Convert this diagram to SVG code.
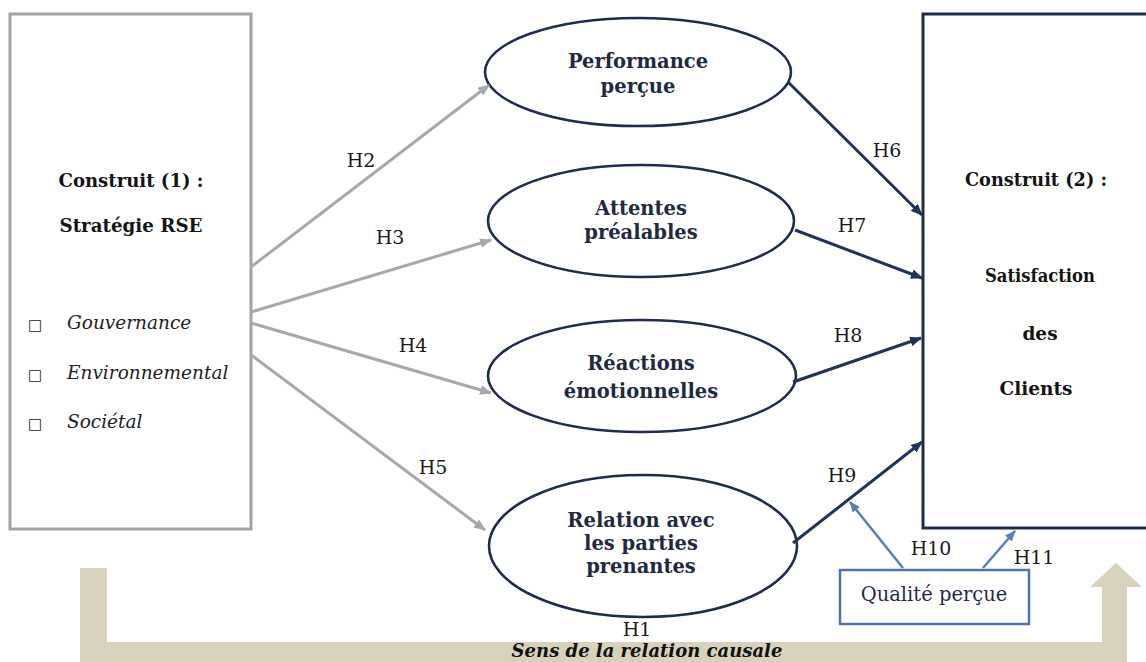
<svg xmlns="http://www.w3.org/2000/svg" width="1146" height="662" viewBox="0 0 1146 662">
<style>
.bg{fill:#ffffff}
.box1{fill:#ffffff;stroke:#a3a3a3;stroke-width:3}
.box2{fill:#ffffff;stroke:#1f2d4a;stroke-width:3}
.ell{fill:#ffffff;stroke:#1f2d4a;stroke-width:2.6}
.qbox{fill:#ffffff;stroke:#5274ab;stroke-width:2.5}
.grey{stroke:#a8a8a8;stroke-width:3;fill:none;marker-end:url(#ag)}
.dark{stroke:#1f3458;stroke-width:3;fill:none;marker-end:url(#ad)}
.blue{stroke:#5b7db5;stroke-width:2.5;fill:none;marker-end:url(#ab)}
.band{fill:#d8d2bd}
.tb{font-family:"DejaVu Serif",serif;font-weight:bold;font-size:18.5px;fill:#141414;text-anchor:middle}
.te{font-family:"DejaVu Serif",serif;font-weight:bold;font-size:19.5px;fill:#1f2a40;text-anchor:middle}
.ti{font-family:"DejaVu Serif",serif;font-style:italic;font-size:18.5px;fill:#1e1e1e}
.bul{font-family:"DejaVu Sans",sans-serif;font-size:15px;fill:#222222}
.th{font-family:"DejaVu Serif",serif;font-size:19px;fill:#1a1a1a;text-anchor:middle}
.tq{font-family:"DejaVu Serif",serif;font-size:19.5px;fill:#1f2d4a;text-anchor:middle}
.ts{font-family:"DejaVu Serif",serif;font-style:italic;font-weight:bold;font-size:18px;fill:#111111;text-anchor:middle}
</style>
<defs>
<marker id="ag" viewBox="0 0 12 10" refX="11" refY="5" markerWidth="4" markerHeight="3.3" orient="auto"><path d="M0,0 L12,5 L0,10 z" fill="#a8a8a8"/></marker>
<marker id="ad" viewBox="0 0 12 10" refX="11" refY="5" markerWidth="4" markerHeight="3.3" orient="auto"><path d="M0,0 L12,5 L0,10 z" fill="#1f3458"/></marker>
<marker id="ab" viewBox="0 0 12 10" refX="11" refY="5" markerWidth="4.5" markerHeight="3.6" orient="auto"><path d="M0,0 L12,5 L0,10 z" fill="#5b7db5"/></marker>
</defs>
<rect class="bg" x="0" y="0" width="1146" height="662"/>

<g id="causal-band">
<polygon class="band" points="80,568 107,568 107,642 1102,642 1102,587 1090,587 1116,563 1142,587 1127,587 1127,662 80,662"/>
</g>

<g id="construit1">
<rect class="box1" x="10" y="14" width="241" height="515"/>
<text class="tb" x="131" y="187" textLength="145" lengthAdjust="spacingAndGlyphs">Construit (1) :</text>
<text class="tb" x="131" y="232" textLength="143" lengthAdjust="spacingAndGlyphs">Stratégie RSE</text>
<text class="bul" x="28" y="330">□</text>
<text class="ti" x="67" y="329">Gouvernance</text>
<text class="bul" x="28" y="380">□</text>
<text class="ti" x="67" y="379">Environnemental</text>
<text class="bul" x="28" y="429">□</text>
<text class="ti" x="67" y="428">Sociétal</text>
</g>

<g id="construit2">
<rect class="box2" x="923" y="14" width="240" height="514"/>
<text class="tb" x="1036" y="186" textLength="142" lengthAdjust="spacingAndGlyphs">Construit (2) :</text>
<text class="tb" x="1040" y="282" textLength="110" lengthAdjust="spacingAndGlyphs">Satisfaction</text>
<text class="tb" x="1040" y="340">des</text>
<text class="tb" x="1036" y="395">Clients</text>
</g>

<g id="performance">
<ellipse class="ell" cx="638" cy="72" rx="153" ry="54"/>
<text class="te" x="638" y="68">Performance</text>
<text class="te" x="638" y="93">perçue</text>
</g>

<g id="attentes">
<ellipse class="ell" cx="641" cy="221" rx="153" ry="56"/>
<text class="te" x="641" y="215">Attentes</text>
<text class="te" x="641" y="239">préalables</text>
</g>

<g id="reactions">
<ellipse class="ell" cx="642" cy="376" rx="154" ry="56"/>
<text class="te" x="641" y="370">Réactions</text>
<text class="te" x="641" y="398">émotionnelles</text>
</g>

<g id="relation">
<ellipse class="ell" cx="643" cy="546" rx="154" ry="71"/>
<text class="te" x="641" y="527">Relation avec</text>
<text class="te" x="641" y="550">les parties</text>
<text class="te" x="641" y="573">prenantes</text>
</g>

<g id="qualite">
<rect class="qbox" x="840" y="570" width="189" height="54"/>
<text class="tq" x="934" y="601">Qualité perçue</text>
</g>

<g id="connectors">
<line class="grey" x1="251" y1="267" x2="489" y2="85"/>
<line class="grey" x1="251" y1="312" x2="491" y2="240"/>
<line class="grey" x1="251" y1="323" x2="491" y2="393"/>
<line class="grey" x1="251" y1="355" x2="485" y2="530"/>
<line class="dark" x1="788" y1="82" x2="922" y2="215"/>
<line class="dark" x1="795" y1="230" x2="922" y2="278"/>
<line class="dark" x1="793" y1="382" x2="921" y2="338"/>
<line class="dark" x1="793" y1="543" x2="922" y2="442"/>
<line class="blue" x1="903" y1="568" x2="850" y2="502"/>
<line class="blue" x1="983" y1="568" x2="1015" y2="531"/>
<text class="th" x="361" y="167">H2</text>
<text class="th" x="390" y="244">H3</text>
<text class="th" x="413" y="352">H4</text>
<text class="th" x="433" y="474">H5</text>
<text class="th" x="887" y="157">H6</text>
<text class="th" x="852" y="232">H7</text>
<text class="th" x="848" y="342">H8</text>
<text class="th" x="842" y="482">H9</text>
<text class="th" x="931" y="555">H10</text>
<text class="th" x="1034" y="564">H11</text>
<text class="th" x="637" y="636">H1</text>
<text class="ts" x="647" y="657">Sens de la relation causale</text>
</g>
</svg>
